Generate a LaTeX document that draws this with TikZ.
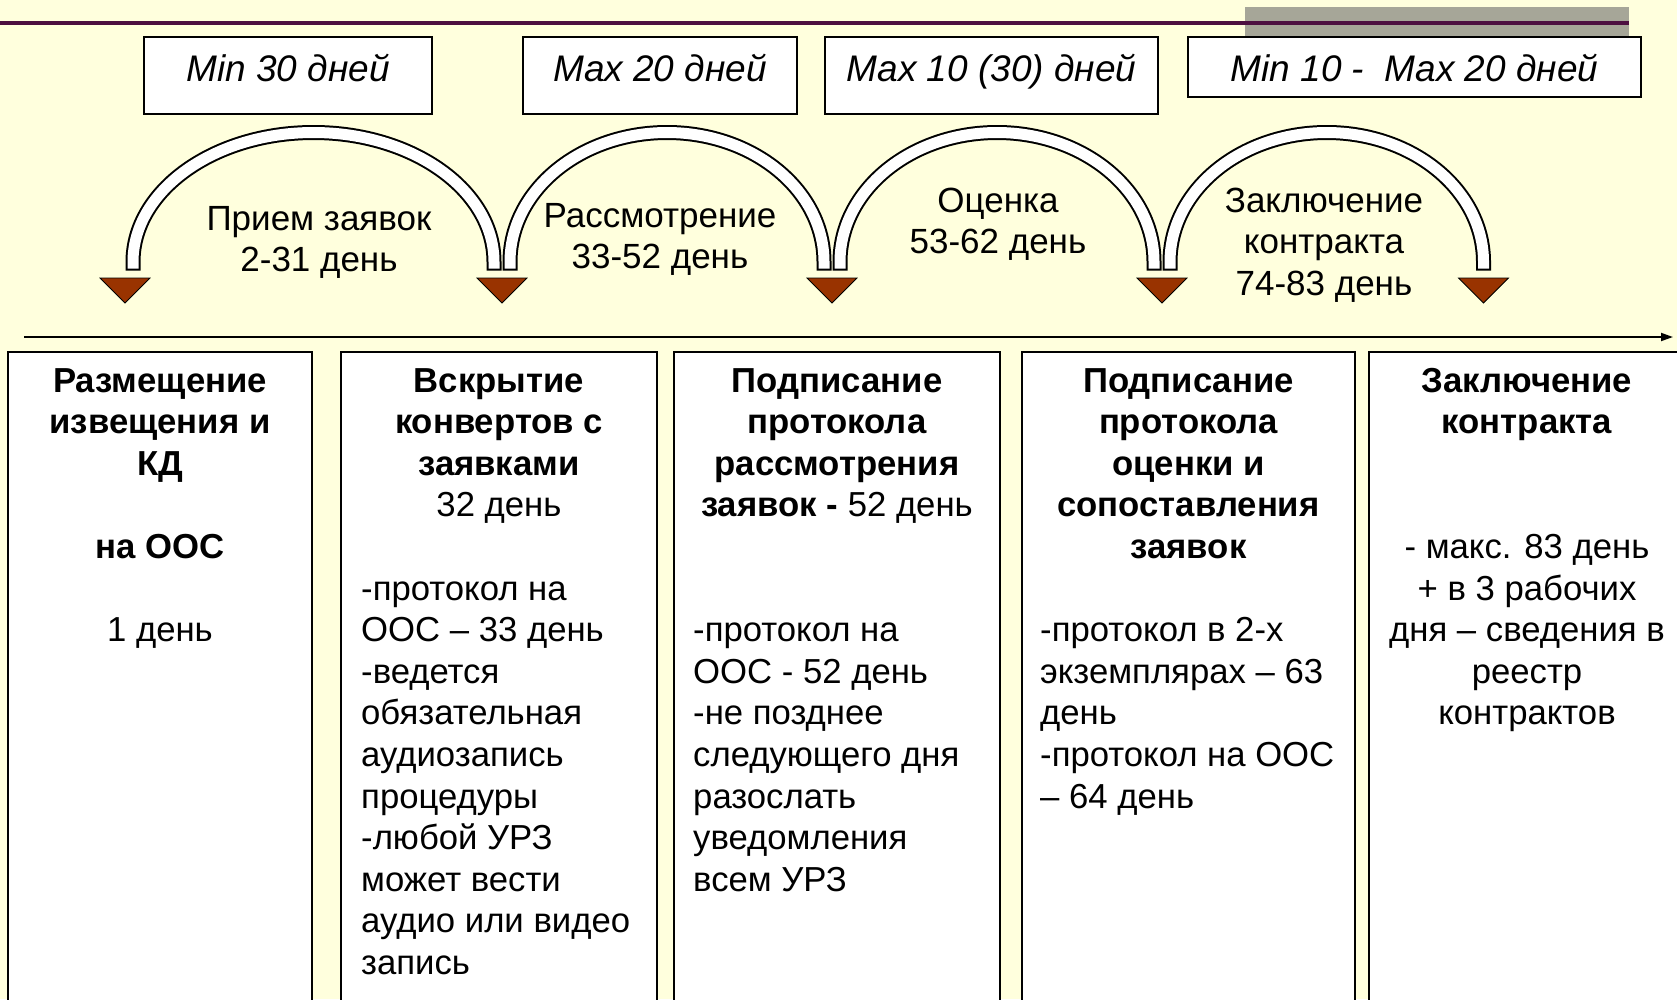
\documentclass[tikz,border=0pt]{standalone}
\usepackage{fontspec}
\setmainfont{Liberation Sans}
\usetikzlibrary{arrows.meta}
\definecolor{bgyellow}{RGB}{255,255,221}
\definecolor{barpurple}{RGB}{77,16,64}
\definecolor{bargray}{RGB}{166,166,152}
\definecolor{tribrown}{RGB}{153,51,0}
\newcommand\humparc[4]{%
  \pgfmathsetmacro\hcx{(#1+#2)/2}%
  \pgfmathsetmacro\hk{0.5523*(#2-#1)/2}%
  \path[#4] (#1,#3) -- (#1,262) .. controls (#1,190.5) and ({\hcx-\hk},132.5) .. (\hcx,132.5) .. controls ({\hcx+\hk},132.5) and (#2,190.5) .. (#2,262) -- (#2,#3);%
}
\tikzset{
  topbox/.style={draw=black, line width=2pt, fill=white, inner sep=0pt},
  colbox/.style={draw=black, line width=2pt, fill=white, inner sep=0pt, minimum height=660pt},
  txt/.style={inner sep=0pt, font=\fontsize{34.7}{41.6}\selectfont},
  arctxt/.style={inner sep=0pt, font=\fontsize{35}{41.6}\selectfont},
  toptxt/.style={inner sep=0pt, font=\fontsize{37}{41.6}\selectfont\itshape},
  arrowtri/.style={fill=tribrown, draw=black, line width=0.8pt},
  bandout/.style={draw=black, line width=15pt},
  bandin/.style={draw=white, line width=11pt},
  timeline/.style={draw=black, line width=1.8pt, -{Triangle[length=12pt,width=8pt]}},
}
\begin{document}
\begin{tikzpicture}[x=1pt,y=-1pt]
\useasboundingbox (0,0) rectangle (1677,999);
\clip (0,0) rectangle (1677,999);
\fill[bgyellow] (0,0) rectangle (1677,999);
% header decoration
\fill[bargray] (1245,7) rectangle (1629,36);
\coordinate (pl0) at (0,23);
\coordinate (pl1) at (1629,23);
\draw[barpurple, line width=4pt] (pl0) -- (pl1);
% top duration boxes
\node[topbox, minimum width=288pt, minimum height=77pt] (d1) at (288,75.5) {};
\node[topbox, minimum width=274pt, minimum height=77pt] (d2) at (660,75.5) {};
\node[topbox, minimum width=333pt, minimum height=77pt] (d3) at (991.5,75.5) {};
\node[topbox, minimum width=453pt, minimum height=60pt] (d4) at (1414.5,67) {};
\node[toptxt, anchor=base] (d1t) at (288,81) {Min 30 дней};
\node[toptxt, anchor=base] (d2t) at (660,81) {Max 20 дней};
\node[toptxt, anchor=base] (d3t) at (991.5,81) {Max 10 (30) дней};
\node[toptxt, anchor=base] (d4t) at (1414.5,81) {Min 10 -\ \ Max 20 дней};
% arcs
\humparc{133}{494}{270.5}{bandout}
\humparc{133}{494}{268.5}{bandin}
\humparc{510}{824}{270.5}{bandout}
\humparc{510}{824}{268.5}{bandin}
\humparc{840}{1154}{270.5}{bandout}
\humparc{840}{1154}{268.5}{bandin}
\humparc{1170}{1483.5}{270.5}{bandout}
\humparc{1170}{1483.5}{268.5}{bandin}
% triangles
\coordinate (t1) at (125,278);
\coordinate (t2) at (502,278);
\coordinate (t3) at (832,278);
\coordinate (t4) at (1162,278);
\coordinate (t5) at (1483.5,278);
\foreach \t in {t1,t2,t3,t4,t5}{
  \draw[arrowtri] (\t) ++(-25,0) -- ++(50,0) -- ++(-25,25) -- cycle;
}
% arc labels
\node[arctxt, anchor=base] (a1t) at (319,230) {\begin{tabular}[t]{@{}c@{}}Прием заявок\\2-31 день\end{tabular}};
\node[arctxt, anchor=base] (a2t) at (660,227) {\begin{tabular}[t]{@{}c@{}}Рассмотрение\\33-52 день\end{tabular}};
\node[arctxt, anchor=base] (a3t) at (998,212) {\begin{tabular}[t]{@{}c@{}}Оценка\\53-62 день\end{tabular}};
\node[arctxt, anchor=base] (a4t) at (1324,212) {\begin{tabular}[t]{@{}c@{}}Заключение\\контракта\\74-83 день\end{tabular}};
% timeline
\coordinate (tl0) at (24,337);
\coordinate (tl1) at (1673,337);
\draw[timeline] (tl0) -- (tl1);
% columns
\node[colbox, minimum width=304pt] (c1) at (160,682) {};
\node[colbox, minimum width=316pt] (c2) at (499,682) {};
\node[colbox, minimum width=326pt] (c3) at (837,682) {};
\node[colbox, minimum width=333pt] (c4) at (1188.5,682) {};
\node[colbox, minimum width=321pt] (c5) at (1529.5,682) {};
% column texts
\node[txt, anchor=base] (c1h) at (160,392) {\begin{tabular}[t]{@{}c@{}}\textbf{Размещение}\\\textbf{извещения и}\\\textbf{КД}\\ \\\textbf{на ООС}\\ \\1 день\end{tabular}};
\node[txt, anchor=base] (c2h) at (499,392) {\begin{tabular}[t]{@{}c@{}}\textbf{Вскрытие}\\\textbf{конвертов с}\\\textbf{заявками}\\32 день\end{tabular}};
\node[txt, anchor=base west] (c2b) at (361,600) {\begin{tabular}[t]{@{}l@{}}-протокол на\\ООС – 33 день\\-ведется\\обязательная\\аудиозапись\\процедуры\\-любой УРЗ\\может вести\\аудио или видео\\запись\end{tabular}};
\node[txt, anchor=base] (c3h) at (837,392) {\begin{tabular}[t]{@{}c@{}}\textbf{Подписание}\\\textbf{протокола}\\\textbf{рассмотрения}\\\textbf{заявок -} 52 день\end{tabular}};
\node[txt, anchor=base west] (c3b) at (693,641.6) {\begin{tabular}[t]{@{}l@{}}-протокол на\\ООС - 52 день\\-не позднее\\следующего дня\\разослать\\уведомления\\всем УРЗ\end{tabular}};
\node[txt, anchor=base] (c4h) at (1188.5,392) {\begin{tabular}[t]{@{}c@{}}\textbf{Подписание}\\\textbf{протокола}\\\textbf{оценки и}\\\textbf{сопоставления}\\\textbf{заявок}\end{tabular}};
\node[txt, anchor=base west] (c4b) at (1040,641.6) {\begin{tabular}[t]{@{}l@{}}-протокол в 2-х\\экземплярах – 63\\день\\-протокол на ООС\\– 64 день\end{tabular}};
\node[txt, anchor=base] (c5h) at (1527,392) {\begin{tabular}[t]{@{}c@{}}\textbf{Заключение}\\\textbf{контракта}\\ \\ \\- макс. 83 день\\+ в 3 рабочих\\дня – сведения в\\реестр\\контрактов\end{tabular}};
\end{tikzpicture}
\end{document}
